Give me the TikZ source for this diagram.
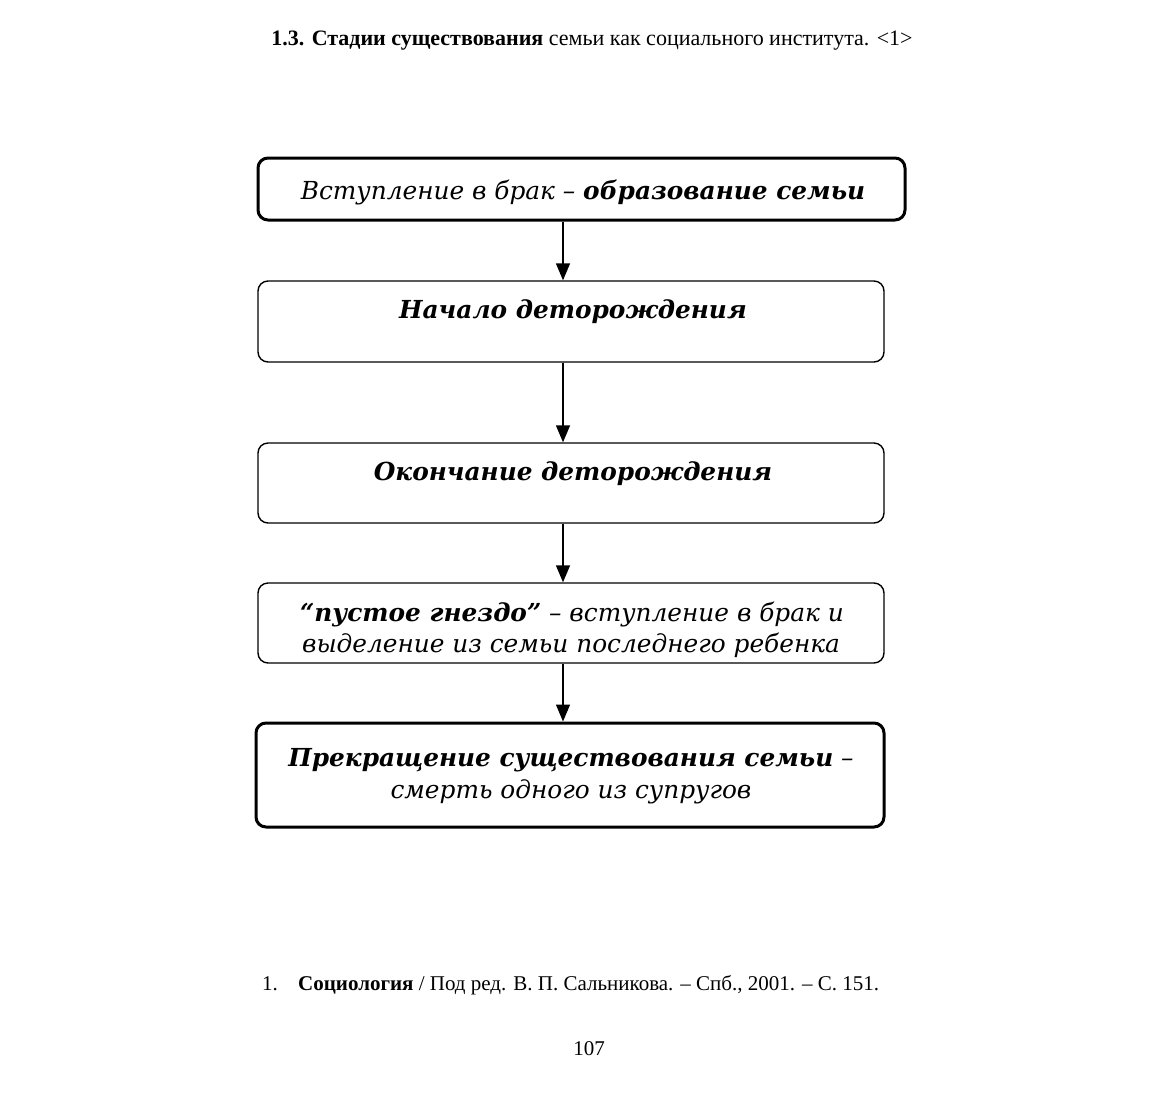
\documentclass[tikz,border=0pt]{standalone}
\usepackage{fontspec}
\setmainfont{Liberation Serif}
\newfontfamily\bk{DejaVu Serif}
\usetikzlibrary{arrows.meta}
\begin{document}
\begin{tikzpicture}[x=1pt,y=-1pt,
  thickbox/.style={draw,line width=3pt,rounded corners=10pt,inner sep=0pt},
  thinbox/.style={draw,line width=1.4pt,rounded corners=10pt,inner sep=0pt},
  btxt/.style={anchor=base,inner sep=0pt,font=\bk\fontsize{24.8}{30}\selectfont\itshape},
  arr/.style={line width=1.4pt,-{Triangle[width=14pt,length=17pt]}}]
\useasboundingbox (0,0) rectangle (1165,1096);
\fill[white] (0,0) rectangle (1165,1096);
% title
\node[anchor=base,inner sep=0pt,font=\fontsize{22}{26}\selectfont] (title) at (592,45)
  {\textbf{1.3. Стадии существования} семьи как социального института. <1>};
% boxes
\node[thickbox,minimum width=647pt,minimum height=62pt] (b1) at (581.5,189) {};
\node[thinbox,minimum width=626pt,minimum height=81pt] (b2) at (571,321.5) {};
\node[thinbox,minimum width=626pt,minimum height=80pt] (b3) at (571,483) {};
\node[thinbox,minimum width=626pt,minimum height=80pt] (b4) at (571,623) {};
\node[thickbox,minimum width=628pt,minimum height=104pt] (b5) at (570,775) {};
% texts
\node[btxt] (t1) at (583,199) {Вступление в брак – \textbf{образование семьи}};
\node[btxt] (t2) at (573,318) {\bfseries Начало деторождения};
\node[btxt] (t3) at (573,480) {\bfseries Окончание деторождения};
\node[btxt] (t4a) at (572,621) {\textbf{“пустое гнездо”} – вступление в брак и};
\node[btxt] (t4b) at (571,652) {выделение из семьи последнего ребенка};
\node[btxt] (t5a) at (571,766) {\textbf{Прекращение существования семьи} –};
\node[btxt] (t5b) at (571,798) {смерть одного из супругов};
% arrows
\coordinate (ax) at (563,0);
\draw[arr] (b1.south -| ax) -- (b2.north -| ax);
\draw[arr] (b2.south -| ax) -- (b3.north -| ax);
\draw[arr] (b3.south -| ax) -- (b4.north -| ax);
\draw[arr] (b4.south -| ax) -- (b5.north -| ax);
% footnote
\node[anchor=base west,inner sep=0pt,font=\fontsize{21}{25}\selectfont] (fn1) at (262,990) {1.};
\node[anchor=base west,inner sep=0pt,font=\fontsize{21}{25}\selectfont] (fn) at (298,990)
  {\textbf{Социология} / Под ред. В. П. Сальникова. – Спб., 2001. – С. 151.};
\node[anchor=base,inner sep=0pt,font=\fontsize{21}{25}\selectfont] (pg) at (589,1055) {107};
\end{tikzpicture}
\end{document}
